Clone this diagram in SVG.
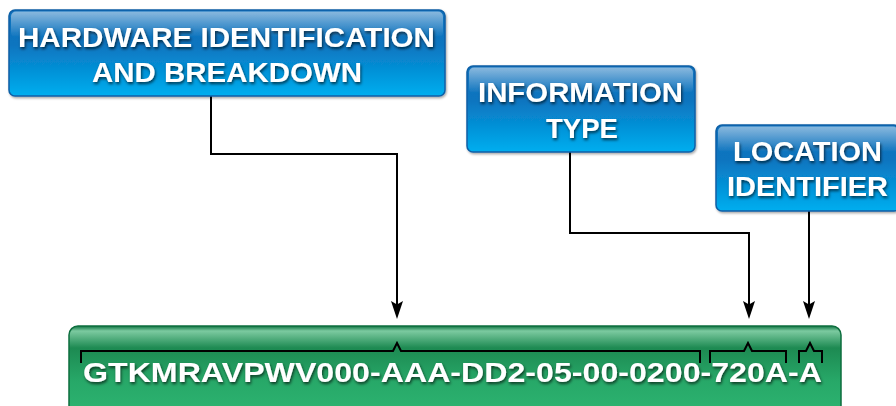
<svg xmlns="http://www.w3.org/2000/svg" width="896" height="406" viewBox="0 0 896 406">
<style>
.lbl{font-family:"Liberation Sans",Arial,sans-serif;font-weight:bold;font-size:28px;fill:#ffffff;filter:url(#ts)}
.con{fill:none;stroke:#000;stroke-width:2}
.head{fill:#000}
.brk{fill:none;stroke:#000;stroke-width:2;stroke-linejoin:miter}
.bbox{fill:url(#blue);stroke:#0b5fa6;stroke-width:1.5}
.gloss{fill:url(#gl)}
</style>
<defs>
<linearGradient id="blue" x1="0" y1="0" x2="0" y2="1">
<stop offset="0" stop-color="#1372bd"/>
<stop offset="0.4" stop-color="#0a74bf"/>
<stop offset="1" stop-color="#00aeef"/>
</linearGradient>
<linearGradient id="gl" x1="0" y1="0" x2="0" y2="1">
<stop offset="0" stop-color="#ffffff" stop-opacity="0.5"/>
<stop offset="1" stop-color="#ffffff" stop-opacity="0"/>
</linearGradient>
<linearGradient id="green" x1="0" y1="0" x2="0" y2="1">
<stop offset="0" stop-color="#0e7442"/>
<stop offset="0.05" stop-color="#7ccaa0"/>
<stop offset="0.22" stop-color="#1d8a52"/>
<stop offset="0.55" stop-color="#27a868"/>
<stop offset="1" stop-color="#2fb874"/>
</linearGradient>
<filter id="ts" x="-10%" y="-30%" width="120%" height="160%">
<feDropShadow dx="1" dy="2" stdDeviation="1.5" flood-color="#000" flood-opacity="0.65"/>
</filter>
<filter id="bs" x="-5%" y="-10%" width="110%" height="130%">
<feDropShadow dx="1" dy="1.5" stdDeviation="1" flood-color="#000" flood-opacity="0.35"/>
</filter>
</defs>

<g id="connectors">
<path class="con" d="M211 96 V154 H397 V306"/>
<path class="head" d="M397 319 L391 301 L397 304.5 L403 301 Z"/>
<path class="con" d="M570 152 V233 H749 V306"/>
<path class="head" d="M749 319 L743 301 L749 304.5 L755 301 Z"/>
<path class="con" d="M809 211 V306"/>
<path class="head" d="M809 319 L803 301 L809 304.5 L815 301 Z"/>
</g>

<g id="code">
<rect x="69" y="326" width="772" height="100" rx="9" fill="url(#green)" stroke="#0d6e3e" stroke-width="1.5"/>
<path class="brk" d="M81 363 V351 H393 L397 343 L401 351 H700 V363"/>
<path class="brk" d="M710 363 V351 H744 L748 343 L752 351 H786 V363"/>
<path class="brk" d="M799 363 V351 H806 L810 343 L814 351 H822 V363"/>
<text class="lbl" x="83" y="382" textLength="739" lengthAdjust="spacingAndGlyphs">GTKMRAVPWV000-AAA-DD2-05-00-0200-720A-A</text>
</g>

<g id="hw" filter="url(#bs)">
<rect class="bbox" x="9" y="10" width="436" height="86" rx="6"/>
<rect class="gloss" x="11" y="11.5" width="432" height="26" rx="5"/>
<text class="lbl" x="18" y="47" textLength="417" lengthAdjust="spacingAndGlyphs">HARDWARE IDENTIFICATION</text>
<text class="lbl" x="92" y="82" textLength="270" lengthAdjust="spacingAndGlyphs">AND BREAKDOWN</text>
</g>

<g id="info" filter="url(#bs)">
<rect class="bbox" x="467" y="66" width="228" height="86" rx="6"/>
<rect class="gloss" x="469" y="67.5" width="224" height="26" rx="5"/>
<text class="lbl" x="478" y="102" textLength="205" lengthAdjust="spacingAndGlyphs">INFORMATION</text>
<text class="lbl" x="546" y="138" textLength="72" lengthAdjust="spacingAndGlyphs">TYPE</text>
</g>

<g id="loc" filter="url(#bs)">
<rect class="bbox" x="716" y="125" width="184" height="86" rx="6"/>
<rect class="gloss" x="718" y="126.5" width="180" height="26" rx="5"/>
<text class="lbl" x="733" y="161" textLength="149" lengthAdjust="spacingAndGlyphs">LOCATION</text>
<text class="lbl" x="727" y="196" textLength="161" lengthAdjust="spacingAndGlyphs">IDENTIFIER</text>
</g>
</svg>
